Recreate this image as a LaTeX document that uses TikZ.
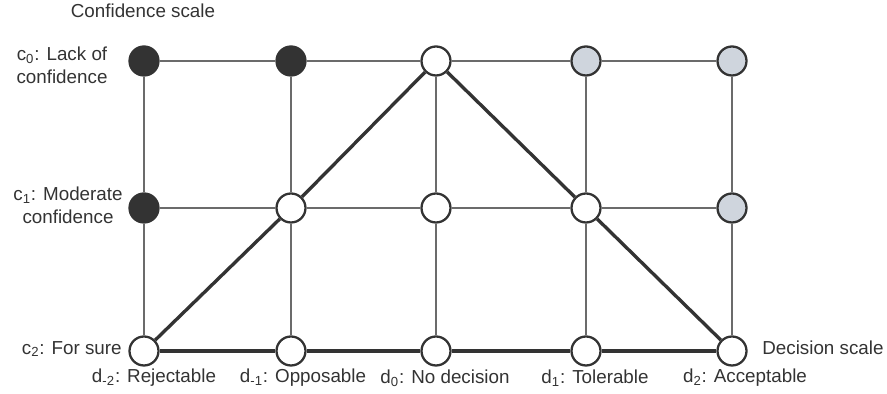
\documentclass[tikz,border=0pt]{standalone}
\usepackage{fontspec}
\setmainfont{Liberation Sans}
\usepackage{xcolor}
\usepackage{tikz}
\usetikzlibrary{positioning}

\definecolor{gridgray}{HTML}{6B6B6B}
\definecolor{inkdark}{HTML}{333333}
\definecolor{paleblue}{HTML}{CFD5DD}

\begin{document}
\begin{tikzpicture}[
    dot/.style={circle, draw=inkdark, line width=1.3pt, fill=white, minimum size=0.58cm, inner sep=0pt},
    darkdot/.style={dot, fill=inkdark},
    lightdot/.style={dot, fill=paleblue},
    lbl/.style={font=\fontsize{10.7}{13}\selectfont, text=inkdark, inner sep=0pt, align=center},
    gridline/.style={draw=gridgray, line width=1.25pt},
    route/.style={draw=inkdark, line width=1.9pt}
]
\useasboundingbox (0,0) rectangle (17.74,7.88);

% Grid points
\node[darkdot] (rej0) at (2.88,6.66) {};
\node[darkdot] (opp0) at (5.82,6.66) {};
\node[dot] (nod0) at (8.72,6.66) {};
\node[lightdot] (tol0) at (11.72,6.66) {};
\node[lightdot] (acc0) at (14.64,6.66) {};

\node[darkdot] (rej1) at (2.88,3.72) {};
\node[dot] (opp1) at (5.82,3.72) {};
\node[dot] (nod1) at (8.72,3.72) {};
\node[dot] (tol1) at (11.72,3.72) {};
\node[lightdot] (acc1) at (14.64,3.72) {};

\node[dot] (rej2) at (2.88,0.86) {};
\node[dot] (opp2) at (5.82,0.86) {};
\node[dot] (nod2) at (8.72,0.86) {};
\node[dot] (tol2) at (11.72,0.86) {};
\node[dot] (acc2) at (14.64,0.86) {};

% Confidence labels
\node[lbl] (confscale) at (2.86,7.66) {Confidence scale};
\node[lbl] (conf0) at (1.24,6.58) {c\textsubscript{0}: Lack of\\confidence};
\node[lbl] (conf1) at (1.36,3.78) {c\textsubscript{1}: Moderate\\confidence};
\node[lbl, anchor=east] (conf2) at (2.44,0.9) {c\textsubscript{2}: For sure};

% Decision labels
\node[lbl, anchor=west] (decscale) at (15.24,0.92) {Decision scale};
\node[lbl] (dec-2) at (3.08,0.32) {d\textsubscript{-2}: Rejectable};
\node[lbl] (dec-1) at (6.06,0.32) {d\textsubscript{-1}: Opposable};
\node[lbl] (dec0) at (8.90,0.32) {d\textsubscript{0}: No decision};
\node[lbl] (dec1) at (11.90,0.32) {d\textsubscript{1}: Tolerable};
\node[lbl] (dec2) at (14.90,0.32) {d\textsubscript{2}: Acceptable};

% Grid lines
\draw[gridline] (rej0) -- (opp0) -- (nod0) -- (tol0) -- (acc0);
\draw[gridline] (rej1) -- (opp1) -- (nod1) -- (tol1) -- (acc1);
\draw[gridline] (rej0) -- (rej1) -- (rej2);
\draw[gridline] (opp0) -- (opp1) -- (opp2);
\draw[gridline] (nod0) -- (nod1) -- (nod2);
\draw[gridline] (tol0) -- (tol1) -- (tol2);
\draw[gridline] (acc0) -- (acc1) -- (acc2);

% Decision path
\draw[route] (rej2) -- (opp2) -- (nod2) -- (tol2) -- (acc2);
\draw[route] (rej2) -- (opp1) -- (nod0) -- (tol1) -- (acc2);

\end{tikzpicture}
\end{document}
